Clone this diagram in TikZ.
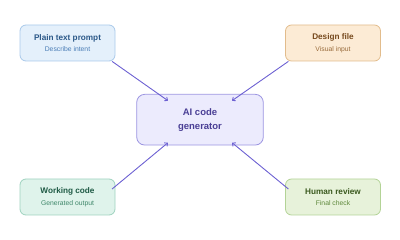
\documentclass[tikz,border=0pt]{standalone}
\usepackage{fontspec}
\setmainfont{Liberation Sans}
\usetikzlibrary{arrows.meta}

\definecolor{promptfill}{HTML}{E4F0FB}
\definecolor{promptdraw}{HTML}{A9C9EA}
\definecolor{prompttext}{HTML}{2B5888}
\definecolor{promptsub}{HTML}{4A7DB6}
\definecolor{designfill}{HTML}{FCEBD5}
\definecolor{designdraw}{HTML}{E2BC8C}
\definecolor{designtext}{HTML}{774A1E}
\definecolor{designsub}{HTML}{9A6C3C}
\definecolor{workfill}{HTML}{DFF3EB}
\definecolor{workdraw}{HTML}{9FD3BF}
\definecolor{worktext}{HTML}{1F5A45}
\definecolor{worksub}{HTML}{3F876A}
\definecolor{reviewfill}{HTML}{E7F2DA}
\definecolor{reviewdraw}{HTML}{B3D396}
\definecolor{reviewtext}{HTML}{3B5A1F}
\definecolor{reviewsub}{HTML}{5F893C}
\definecolor{genfill}{HTML}{ECEBFD}
\definecolor{gendraw}{HTML}{9C95E1}
\definecolor{gentext}{HTML}{4A3F95}
\definecolor{flow}{HTML}{6C60D2}

\begin{document}
\begin{tikzpicture}[x=1pt,y=-1pt,line width=0.8pt,>={To[length=3.2pt,width=5pt]},
  inbox/.style={draw,rounded corners=6pt,minimum width=95pt,minimum height=36pt,
    inner sep=0pt,align=center,font=\fontsize{8.2}{11.5}\selectfont},
  genbox/.style={draw=gendraw,fill=genfill,rounded corners=8pt,minimum width=126.6pt,
    minimum height=50.7pt,inner sep=0pt,align=center,text=gentext,
    font=\fontsize{9.5}{14}\selectfont\bfseries},
  flowline/.style={->,draw=flow,line width=0.9pt}]
  \useasboundingbox (0,0) rectangle (400,240);
  % generador central
  \node[genbox] (gen) at (200,119.7) {AI code\\generator};
  % entradas y salidas
  \node[inbox,draw=promptdraw,fill=promptfill,text=prompttext] (prompt) at (67.5,43)
    {\textbf{Plain text prompt}\\{\fontsize{6.8}{11.5}\selectfont\color{promptsub}Describe intent}};
  \node[inbox,draw=designdraw,fill=designfill,text=designtext] (design) at (333,43)
    {\textbf{Design file}\\{\fontsize{6.8}{11.5}\selectfont\color{designsub}Visual input}};
  \node[inbox,draw=workdraw,fill=workfill,text=worktext] (work) at (67.5,197)
    {\textbf{Working code}\\{\fontsize{6.8}{11.5}\selectfont\color{worksub}Generated output}};
  \node[inbox,draw=reviewdraw,fill=reviewfill,text=reviewtext] (review) at (333,197)
    {\textbf{Human review}\\{\fontsize{6.8}{11.5}\selectfont\color{reviewsub}Final check}};
  % puntos de llegada
  \coordinate (gen-nw) at ([xshift=31.6pt,yshift=-6.7pt]gen.north west);
  \coordinate (gen-ne) at ([xshift=-31.6pt,yshift=-6.7pt]gen.north east);
  \coordinate (gen-sw) at ([xshift=31.6pt,yshift=2.7pt]gen.south west);
  \coordinate (gen-se) at ([xshift=-31.6pt,yshift=2.7pt]gen.south east);
  % flechas
  \draw[flowline] ([xshift=-3.3pt]prompt.south east) -- (gen-nw);
  \draw[flowline] ([xshift=3.3pt]design.south west) -- (gen-ne);
  \draw[flowline] ([xshift=-3.3pt,yshift=8pt]work.east) -- (gen-sw);
  \draw[flowline] ([xshift=3.3pt,yshift=8pt]review.west) -- (gen-se);
\end{tikzpicture}
\end{document}
